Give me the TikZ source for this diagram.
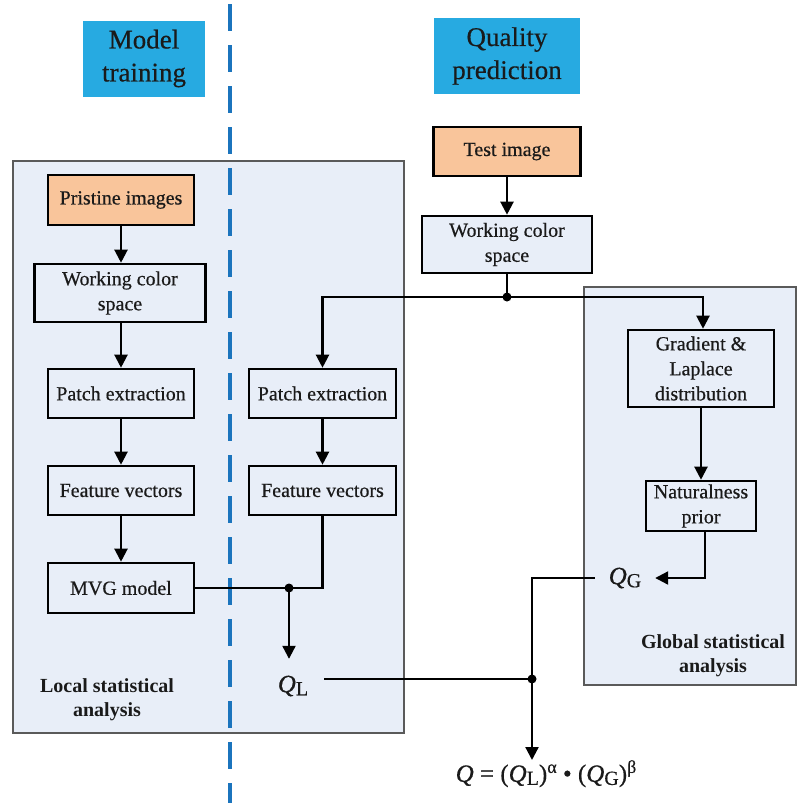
\documentclass[tikz,border=0pt]{standalone}
\usepackage{fontspec}
\setmainfont{Liberation Serif}[UprightFeatures={FakeBold=0.5},ItalicFeatures={FakeBold=0.5}]
\usetikzlibrary{arrows.meta}
\definecolor{panelfill}{HTML}{E8EEF8}
\definecolor{panelline}{HTML}{5A5A5A}
\definecolor{peach}{HTML}{F9C59B}
\definecolor{headcyan}{HTML}{27AAE1}
\definecolor{dashblue}{HTML}{1B74BD}
\definecolor{txt}{HTML}{1A1A1A}
\begin{document}
\begin{tikzpicture}[x=1pt,y=-1pt,
  every node/.style={text=txt},
  box/.style={draw=black, line width=2.6pt, fill=panelfill, align=center, inner sep=0pt,
    font=\fontsize{20}{25}\selectfont},
  peachbox/.style={box, fill=peach},
  headbox/.style={fill=headcyan, align=center, inner sep=0pt, font=\fontsize{27}{33}\selectfont},
  panel/.style={draw=panelline, line width=1.3pt, fill=panelfill},
  conn/.style={draw=black, line width=2.2pt},
  arr/.style={conn, -{Triangle[length=13pt,width=13pt]}},
  junc/.style={circle, fill=black, inner sep=0pt, minimum size=9pt},
  lbl/.style={align=center, font=\bfseries\fontsize{20}{24}\selectfont},
  qtext/.style={inner sep=0pt, font=\fontsize{25}{29}\selectfont}
]
\useasboundingbox (0,0) rectangle (797,803);

% panels
\path[panel] (13,161) rectangle (404,733);
\path[panel] (584,287) rectangle (796,685);

% dashed divider
\draw[dashblue, line width=3.5pt, dash pattern=on 27pt off 14pt] (230,4) -- (230,803);

% headings
\node[headbox, minimum width=122pt, minimum height=76pt] (mt) at (144,58.5) {Model\\training};
\node[headbox, minimum width=146pt, minimum height=76pt] (qp) at (507,56) {Quality\\prediction};

% left column
\node[peachbox, minimum width=146pt, minimum height=50pt] (pri) at (121,200) {Pristine images};
\node[box, minimum width=171pt, minimum height=58pt] (wcs1) at (120,293) {Working color\\space};
\node[box, minimum width=146pt, minimum height=49pt] (pat1) at (121,393.5) {Patch extraction};
\node[box, minimum width=146pt, minimum height=49pt] (fea1) at (121,490.5) {Feature vectors};
\node[box, minimum width=146pt, minimum height=50pt] (mvg) at (121,588) {MVG model};

% middle column
\node[box, minimum width=147pt, minimum height=49pt] (pat2) at (322.5,393.5) {Patch extraction};
\node[box, minimum width=147pt, minimum height=49pt] (fea2) at (322.5,490.5) {Feature vectors};

% test branch
\node[peachbox, minimum width=147pt, minimum height=49pt] (test) at (507,151.5) {Test image};
\node[box, minimum width=170pt, minimum height=57pt] (wcs2) at (507,244.5) {Working color\\space};

% global branch
\node[box, minimum width=146pt, minimum height=77pt] (grad) at (701,368.5) {Gradient \&\\Laplace\\distribution};
\node[box, minimum width=110pt, minimum height=50pt] (nat) at (701,506) {Naturalness\\prior};

% Q nodes
\node[qtext, minimum width=60pt] (qg) at (625,578) {\textit{Q}\raisebox{-3pt}{\fontsize{20}{20}\selectfont G}};
\node[qtext, minimum width=62pt, minimum height=54pt] (ql) at (293,686) {\textit{Q}\raisebox{-3pt}{\fontsize{20}{20}\selectfont L}};
\node[qtext, anchor=north] (qf) at (546,760) {\textit{Q} = (\textit{Q}\raisebox{-3pt}{\fontsize{20}{20}\selectfont L})\raisebox{9pt}{\fontsize{18}{18}\selectfont α} • (\textit{Q}\raisebox{-3pt}{\fontsize{20}{20}\selectfont G})\raisebox{9pt}{\fontsize{18}{18}\selectfont β}};

% labels
\node[lbl] (loc) at (107,700) {Local statistical\\analysis};
\node[lbl] (glo) at (713,656) {Global statistical\\analysis};

% junctions
\node[junc] (j1) at (507,297) {};
\node[junc] (j2) at (289,588) {};
\node[junc] (j3) at (532,679) {};

% connectors
\draw[arr] (pri.south) -- (pri.south |- wcs1.north);
\draw[arr] (pri.south |- wcs1.south) -- (pat1.north);
\draw[arr] (pat1) -- (fea1);
\draw[arr] (fea1) -- (mvg);
\draw[arr] (test) -- (wcs2);
\draw[conn] (wcs2.south) -- (j1.center);
\draw[arr] (j1.center) -| (pat2.north);
\draw[arr] (j1.center) -| ([xshift=2pt]grad.north);
\draw[arr] (pat2) -- (fea2);
\draw[arr] (grad) -- (nat);
\draw[arr] ([xshift=4pt]nat.south) |- (qg.east);
\draw[conn] (mvg.east) -- (fea2.south |- mvg.east) -- (fea2.south);
\draw[arr] (j2.center) -- (j2 |- ql.north);
\draw[conn] (ql.east |- j3) -- (j3.center);
\draw[conn] (qg.west) -| (j3.center);
\draw[arr] (j3.center) -- (j3 |- qf.north);
\end{tikzpicture}
\end{document}
